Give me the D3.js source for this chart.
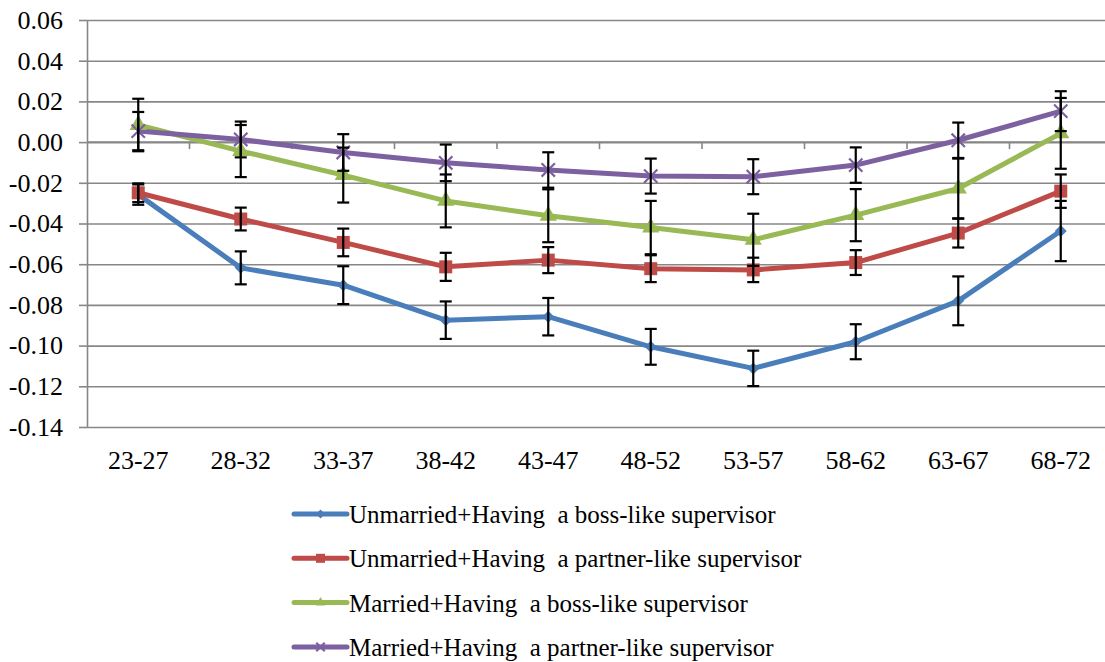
<!DOCTYPE html>
<html>
<head>
<meta charset="utf-8">
<script src="https://cdn.jsdelivr.net/npm/d3@7"></script>
<style>
  html, body { margin: 0; padding: 0; background: #fff; }
  svg text { font-family: "Liberation Serif", "Times New Roman", Tinos, "DejaVu Serif", serif !important; }
</style>
</head>
<body>
<div id="chart"></div>
<script>
// age groups on the category axis
var categories = ["23-27", "28-32", "33-37", "38-42", "43-47", "48-52", "53-57", "58-62", "63-67", "68-72"];

// y axis ticks
var yTicks = [-0.14, -0.12, -0.10, -0.08, -0.06, -0.04, -0.02, 0.00, 0.02, 0.04, 0.06];
var yTickLabels = ["-0.14", "-0.12", "-0.10", "-0.08", "-0.06", "-0.04", "-0.02", "0.00", "0.02", "0.04", "0.06"];

var seriesNames = [
    "Unmarried+Having  a boss-like supervisor",
    "Unmarried+Having  a partner-like supervisor",
    "Married+Having  a boss-like supervisor",
    "Married+Having  a partner-like supervisor"
];

// values
var unmarriedBoss = [-0.0258, -0.0618, -0.0703, -0.0875, -0.0858, -0.1006, -0.1112, -0.0981, -0.0780, -0.0437];
var unmarriedBossErr = [0.0050, 0.0081, 0.0093, 0.0092, 0.0092, 0.0088, 0.0087, 0.0086, 0.0120, 0.0148];
var unmarriedPartner = [-0.0249, -0.0378, -0.0493, -0.0613, -0.0580, -0.0622, -0.0628, -0.0592, -0.0447, -0.0241];
var unmarriedPartnerErr = [0.0046, 0.0056, 0.0068, 0.0069, 0.0064, 0.0066, 0.0060, 0.0061, 0.0071, 0.0082];
var marriedBoss = [0.0084, -0.0044, -0.0162, -0.0289, -0.0362, -0.0420, -0.0480, -0.0359, -0.0228, 0.0043];
var marriedBossErr = [0.0129, 0.0128, 0.0135, 0.0130, 0.0130, 0.0131, 0.0128, 0.0128, 0.0147, 0.0174];
var marriedPartner = [0.0054, 0.0013, -0.0051, -0.0102, -0.0137, -0.0167, -0.0170, -0.0113, 0.0009, 0.0152];
var marriedPartnerErr = [0.0094, 0.0088, 0.0090, 0.0090, 0.0087, 0.0086, 0.0086, 0.0087, 0.0087, 0.0098];

var colors = ["#4A7EBB", "#BE4B48", "#98B954", "#7D60A0"];

var series = [
    { name: seriesNames[0], values: unmarriedBoss, err: unmarriedBossErr, color: colors[0], marker: "diamond" },
    { name: seriesNames[1], values: unmarriedPartner, err: unmarriedPartnerErr, color: colors[1], marker: "square" },
    { name: seriesNames[2], values: marriedBoss, err: marriedBossErr, color: colors[2], marker: "triangle" },
    { name: seriesNames[3], values: marriedPartner, err: marriedPartnerErr, color: colors[3], marker: "x" }
];

var width = 1105, height = 662,
    // plot area (right edge runs past the picture, like the original crop)
    plotLeft = 87, plotRight = 1112, plotTop = 20, plotBottom = 427,
    gridColor = "#878787";

var svg = d3.select("#chart").append("svg")
    .attr("width", width).attr("height", height)
    .style("display", "block");

var x = d3.scaleBand().domain(categories).range([plotLeft, plotRight]).paddingInner(0).paddingOuter(0);
var y = d3.scaleLinear().domain([-0.14, 0.06]).range([plotBottom, plotTop]);
var cx = function (i) { return x(categories[i]) + x.bandwidth() / 2; };

// gridlines
svg.append("g")
    .attr("transform", "translate(" + plotLeft + ",0)")
    .call(d3.axisLeft(y).tickValues(yTicks).tickSize(-(plotRight - plotLeft)).tickFormat(""))
    .call(function (g) {
        g.select(".domain").remove();
        g.selectAll("line").attr("stroke", gridColor).attr("stroke-width", 1.6);
    });

// y axis with labels
svg.append("g")
    .attr("transform", "translate(" + plotLeft + ",0)")
    .call(d3.axisLeft(y).tickValues(yTicks).tickSize(8).tickSizeOuter(0).tickPadding(16)
        .tickFormat(function (d, i) { return yTickLabels[i]; }))
    .call(function (g) {
        g.attr("font-family", null);
        g.select(".domain").attr("stroke", gridColor).attr("stroke-width", 1.6);
        g.selectAll("line").attr("stroke", gridColor).attr("stroke-width", 1.6);
        g.selectAll("text").attr("font-size", 26).attr("fill", "#000");
    });

// category axis sits on the zero line, ticks on band borders
var xAxisG = svg.append("g");
xAxisG.append("line")
    .attr("x1", plotLeft).attr("x2", plotRight).attr("y1", y(0)).attr("y2", y(0))
    .attr("stroke", gridColor).attr("stroke-width", 1.6);
xAxisG.selectAll("line.tick")
    .data(categories.slice(1))
    .enter().append("line").attr("class", "tick")
    .attr("x1", function (d) { return x(d); }).attr("x2", function (d) { return x(d); })
    .attr("y1", y(0)).attr("y2", y(0) + 7)
    .attr("stroke", gridColor).attr("stroke-width", 1.6);

// category labels below the plot
svg.append("g").selectAll("text")
    .data(categories)
    .enter().append("text")
    .attr("x", function (d, i) { return cx(i); })
    .attr("y", 469)
    .attr("text-anchor", "middle")
    .attr("font-size", 26)
    .text(function (d) { return d; });

var line = d3.line()
    .x(function (d, i) { return cx(i); })
    .y(function (d) { return y(d); });

function drawMarker(g, type, color, px, py, s) {
    if (type === "diamond") {
        g.append("path").attr("d", d3.symbol(d3.symbolSquare, s * s * 0.5)())
            .attr("transform", "translate(" + px + "," + py + ") rotate(45)")
            .attr("fill", color);
    } else if (type === "square") {
        g.append("path").attr("d", d3.symbol(d3.symbolSquare, s * s)())
            .attr("transform", "translate(" + px + "," + py + ")")
            .attr("fill", color);
    } else if (type === "triangle") {
        g.append("path").attr("d", d3.symbol(d3.symbolTriangle, s * s * 0.5)())
            .attr("transform", "translate(" + px + "," + py + ")")
            .attr("fill", color);
    } else {
        g.append("path").attr("d", d3.symbol(d3.symbolTimes, s * s * 0.6)())
            .attr("transform", "translate(" + px + "," + py + ")")
            .attr("fill", "none").attr("stroke", color).attr("stroke-width", 2.2);
    }
}

var markerSize = { diamond: 12, square: 13, triangle: 16, x: 14 };

// lines
svg.append("g").selectAll("path")
    .data(series)
    .enter().append("path")
    .attr("d", function (s) { return line(s.values); })
    .attr("fill", "none")
    .attr("stroke", function (s) { return s.color; })
    .attr("stroke-width", 5)
    .attr("stroke-linejoin", "round");

// markers
var markG = svg.append("g");
series.forEach(function (s) {
    s.values.forEach(function (v, i) {
        drawMarker(markG, s.marker, s.color, cx(i), y(v), markerSize[s.marker]);
    });
});

// error bars
var errG = svg.append("g").attr("stroke", "#000").attr("stroke-width", 2.2);
series.forEach(function (s) {
    s.values.forEach(function (v, i) {
        var px = cx(i), hi = y(v + s.err[i]), lo = y(v - s.err[i]);
        errG.append("line").attr("x1", px).attr("x2", px).attr("y1", hi).attr("y2", lo);
        errG.append("line").attr("x1", px - 6).attr("x2", px + 6).attr("y1", hi).attr("y2", hi);
        errG.append("line").attr("x1", px - 6).attr("x2", px + 6).attr("y1", lo).attr("y2", lo);
    });
});

// legend
var legend = svg.append("g");
series.forEach(function (s, k) {
    var ly = 514 + k * 44.3;
    legend.append("line")
        .attr("x1", 294).attr("x2", 347).attr("y1", ly).attr("y2", ly)
        .attr("stroke", s.color).attr("stroke-width", 5).attr("stroke-linecap", "round");
    drawMarker(legend, s.marker, s.color, 320.5, ly, 9);
    legend.append("text")
        .attr("x", 349).attr("y", ly + 9)
        .attr("font-size", 25)
        .style("white-space", "pre")
        .attr("xml:space", "preserve")
        .text(s.name);
});
</script>
</body>
</html>
